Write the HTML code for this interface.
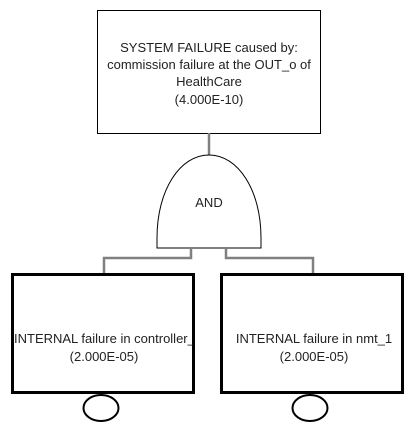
<!DOCTYPE html>
<html><head><meta charset="utf-8"><style>html,body{margin:0;padding:0;background:#fff;}svg{display:block}</style></head>
<body>
<svg width="418" height="433" xmlns="http://www.w3.org/2000/svg" font-family="'Liberation Sans', sans-serif" font-size="13" fill="#222">
<defs><clipPath id="c1"><rect x="12" y="274" width="181" height="119"/></clipPath></defs>
<rect x="0" y="0" width="418" height="433" fill="#fff"/>
<rect x="97.5" y="10.5" width="223" height="123" fill="#fff" stroke="#000" stroke-width="1"/>
<g text-anchor="middle">
<text x="209" y="52">SYSTEM FAILURE caused by:</text>
<text x="209" y="69">commission failure at the OUT_o of</text>
<text x="209" y="86">HealthCare</text>
<text x="209" y="104">(4.000E-10)</text>
</g>
<line x1="209" y1="133" x2="209" y2="155" stroke="#808080" stroke-width="2.5"/>
<path d="M157,248 L157,238 C157,190 180,155 209,155 C238,155 261,190 261,238 L261,248 Z" fill="#fff" stroke="#000" stroke-width="1"/>
<text x="209" y="207" text-anchor="middle">AND</text>
<polyline points="191,248 191,258 104,258 104,274" fill="none" stroke="#808080" stroke-width="2.5"/>
<polyline points="226,248 226,258 313,258 313,274" fill="none" stroke="#808080" stroke-width="2.5"/>
<rect x="12.5" y="274.5" width="181" height="118" fill="#fff" stroke="#000" stroke-width="3"/>
<rect x="221.5" y="274.5" width="181" height="118" fill="#fff" stroke="#000" stroke-width="3"/>
<g clip-path="url(#c1)"><text x="14" y="343">INTERNAL failure in controller_1</text></g>
<text x="104" y="361" text-anchor="middle">(2.000E-05)</text>
<text x="314" y="343" text-anchor="middle">INTERNAL failure in nmt_1</text>
<text x="314" y="361" text-anchor="middle">(2.000E-05)</text>
<ellipse cx="101" cy="408" rx="17.5" ry="13" fill="#fff" stroke="#000" stroke-width="2"/>
<ellipse cx="310" cy="408" rx="17.5" ry="13" fill="#fff" stroke="#000" stroke-width="2"/>
</svg>
</body></html>
